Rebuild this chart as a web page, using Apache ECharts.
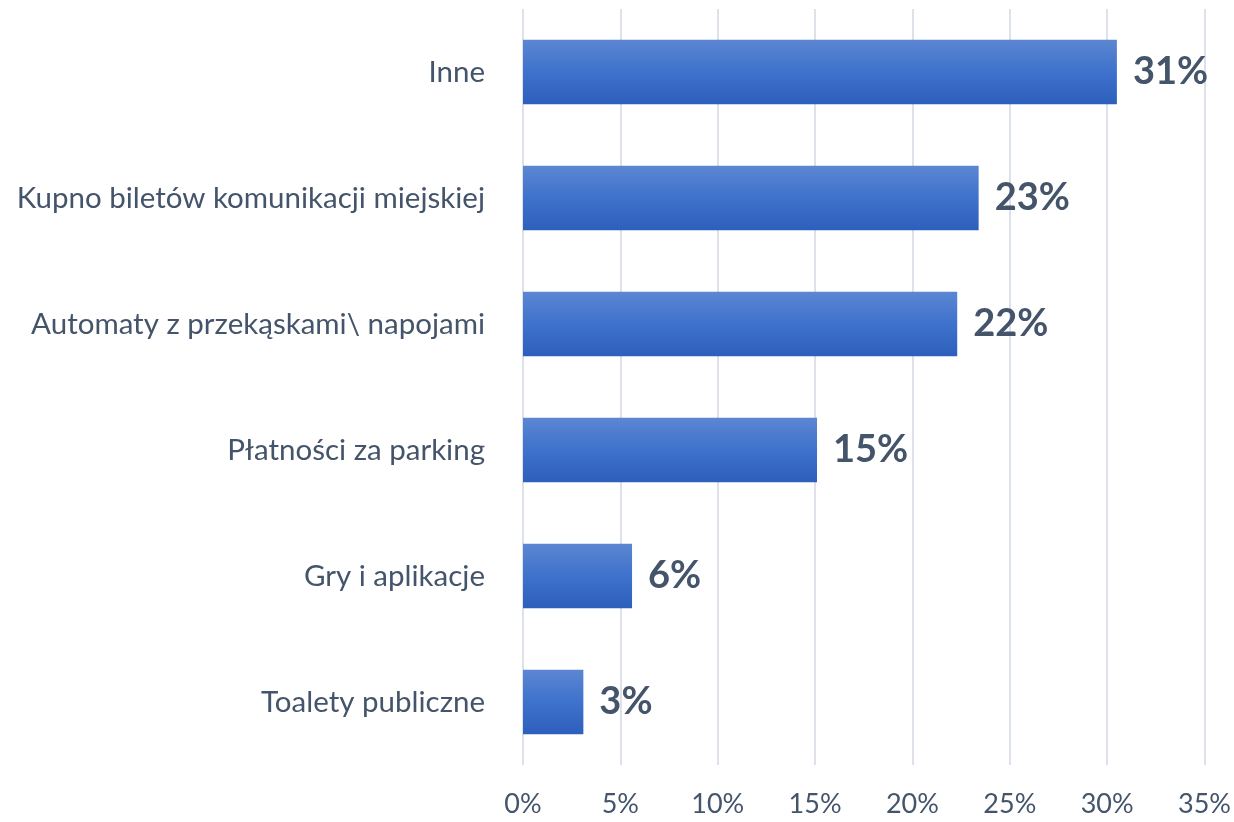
<!DOCTYPE html>
<html><head><meta charset="utf-8">
<script src="https://cdn.jsdelivr.net/npm/echarts@6/dist/echarts.min.js"></script>
<style>html,body{margin:0;padding:0;background:#fff}#c{width:1234px;height:822px}</style>
</head><body><div id="c"></div>
<script>
const categories = ["Toalety publiczne", "Gry i aplikacje", "Płatności za parking", "Automaty z przekąskami\\ napojami", "Kupno biletów komunikacji miejskiej", "Inne"];
const values = [3.1, 5.6, 15.1, 22.3, 23.4, 30.5];
const xTicks = [0, 5, 10, 15, 20, 25, 30, 35];

const textColor = '#44546a';
const chart = echarts.init(document.getElementById('c'), null, {renderer: 'canvas'});
chart.setOption({
  animation: false,
  grid: {left: 523, right: 28, top: 9, bottom: 57, containLabel: false},
  xAxis: {
    type: 'value', min: xTicks[0], max: xTicks[xTicks.length - 1], interval: 5,
    axisLine: {show: false}, axisTick: {show: false},
    splitLine: {show: true, lineStyle: {color: '#dce1ea', width: 2}},
    axisLabel: {formatter: v => v + '%', color: textColor, fontFamily: 'Lato', fontSize: 27, margin: 26}
  },
  yAxis: {
    type: 'category', data: categories,
    axisLine: {show: false}, axisTick: {show: false},
    axisLabel: {color: textColor, fontFamily: 'Lato', fontSize: 29.5, margin: 38}
  },
  series: [{
    type: 'bar', data: values, barCategoryGap: '49%',
    itemStyle: {color: new echarts.graphic.LinearGradient(0, 0, 0, 1, [
      {offset: 0, color: '#5c86d2'}, {offset: 0.5, color: '#3e72cc'}, {offset: 1, color: '#2d5fbc'}
    ])},
    label: {show: true, position: 'right', distance: 16, formatter: p => Math.round(p.value) + '%',
      color: textColor, fontFamily: 'Lato', fontWeight: 'bold', fontSize: 38}
  }]
});
</script></body></html>
